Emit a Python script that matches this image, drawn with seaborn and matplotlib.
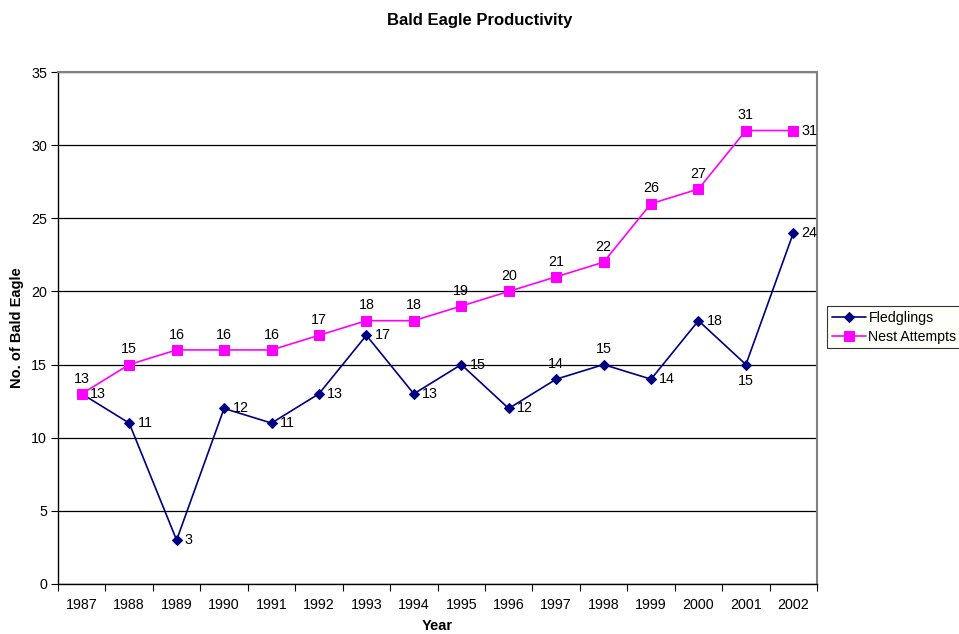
import numpy as np
import pandas as pd
import matplotlib
matplotlib.use("Agg")
import matplotlib.pyplot as plt
import seaborn as sns

# chart data
years = ["1987", "1988", "1989", "1990", "1991", "1992", "1993", "1994",
         "1995", "1996", "1997", "1998", "1999", "2000", "2001", "2002"]
fledglings = [13, 11, 3, 12, 11, 13, 17, 13, 15, 12, 14, 15, 14, 18, 15, 24]
nest_attempts = [13, 15, 16, 16, 16, 17, 18, 18, 19, 20, 21, 22, 26, 27, 31, 31]

# where each data label sits relative to its point
fled_label_pos = ["right"] * 16
fled_label_pos[10] = "above"
fled_label_pos[11] = "above"
fled_label_pos[14] = "below"
nest_label_pos = ["above"] * 16
nest_label_pos[15] = "right"

sns.set_style("white")
plt.rcParams["font.family"] = ["Liberation Sans", "DejaVu Sans"]
plt.rcParams["text.color"] = "black"
plt.rcParams["axes.labelcolor"] = "black"
plt.rcParams["xtick.color"] = "black"
plt.rcParams["ytick.color"] = "black"

fig = plt.figure(figsize=(9.59, 6.34), dpi=100)
ax = fig.add_axes([0.0605, 0.0789, 0.7915, 0.8075])

x = np.arange(len(years))
df = pd.DataFrame({"x": x, "Fledglings": fledglings, "Nest Attempts": nest_attempts})

sns.lineplot(data=df, x="x", y="Fledglings", ax=ax, color="#000080", marker="D",
             markersize=5.5, markeredgecolor="#000080", linewidth=1.2, label="Fledglings")
sns.lineplot(data=df, x="x", y="Nest Attempts", ax=ax, color="#FF00FF", marker="s",
             markersize=6.5, markeredgecolor="#FF00FF", linewidth=1.2, label="Nest Attempts")

offsets = {"right": (6, 0, "left", "center"),
           "above": (0, 11, "center", "center"),
           "below": (0, -12, "center", "center")}
for series, pos in [(fledglings, fled_label_pos), (nest_attempts, nest_label_pos)]:
    for xi, v, p in zip(x, series, pos):
        dx, dy, ha, va = offsets[p]
        ax.annotate(str(v), (xi, v), xytext=(dx, dy), textcoords="offset points",
                    ha=ha, va=va, fontsize=10.3, color="black")

ax.set_xlim(-0.5, len(years) - 0.5)
ax.set_ylim(0, 35)
ax.set_yticks(range(0, 36, 5))
ax.set_xticks(x)
ax.set_xticklabels(years)
ax.set_xticks(np.arange(-0.5, len(years), 1.0), minor=True)
ax.tick_params(axis="x", which="major", length=0, labelsize=10.3, pad=10)
ax.tick_params(axis="x", which="minor", length=5, direction="out", width=0.8, bottom=True)
ax.tick_params(axis="y", length=5, direction="out", width=0.8, labelsize=10.3, left=True, pad=3)

ax.grid(axis="y", color="black", linewidth=0.9)
ax.set_axisbelow(True)
for s in ["left", "bottom"]:
    ax.spines[s].set_color("black")
    ax.spines[s].set_linewidth(1.0)
for s in ["top", "right"]:
    ax.spines[s].set_color("#808080")
    ax.spines[s].set_linewidth(1.5)
    ax.spines[s].set_visible(True)

ax.set_xlabel("Year", fontsize=10.5, fontweight="bold", labelpad=5)
ax.set_ylabel("No. of Bald Eagle", fontsize=10.5, fontweight="bold", labelpad=5)
fig.suptitle("Bald Eagle Productivity", fontsize=12, fontweight="bold", y=0.98)

ax.get_legend().remove()
handles, labels = ax.get_legend_handles_labels()
leg = fig.legend(handles, labels, loc="upper left", bbox_to_anchor=(0.862, 0.518),
                 fontsize=10.2, frameon=True, fancybox=False, borderpad=0.35,
                 handlelength=2.4, handletextpad=0.2, labelspacing=0.35, borderaxespad=0)
leg.get_frame().set_edgecolor("black")
leg.get_frame().set_linewidth(0.8)
leg.get_frame().set_facecolor("#FFFFF8")

fig.savefig("out.png", dpi=100)
